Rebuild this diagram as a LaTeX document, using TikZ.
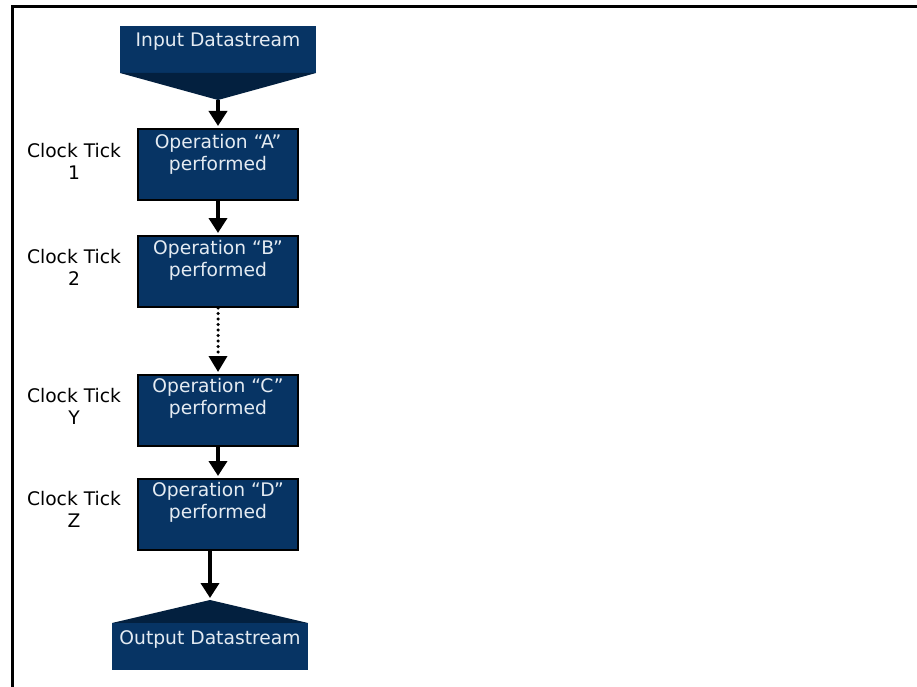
\documentclass[tikz,border=0pt]{standalone}
\usepackage{fontspec}
\setmainfont{DejaVu Sans}
\usetikzlibrary{arrows.meta}
\definecolor{navy}{HTML}{073464}
\definecolor{navydark}{HTML}{03203F}
\definecolor{boxtext}{HTML}{E4EBF2}

\begin{document}
\begin{tikzpicture}[x=1pt,y=-1pt,
  opbox/.style={draw=black, line width=2pt, fill=navy, minimum width=160pt,
    minimum height=71pt, inner sep=0pt, anchor=north west},
  optext/.style={text=boxtext, align=center, inner sep=0pt,
    font=\fontsize{18.7}{22}\selectfont},
  ticklabel/.style={align=center, inner sep=0pt, font=\fontsize{18.7}{22}\selectfont},
  streamtext/.style={text=boxtext, inner sep=0pt, font=\fontsize{18.7}{22}\selectfont},
  arr/.style={line width=4pt, shorten >=2pt, -{Triangle[width=18pt,length=15pt]}},
  dotarr/.style={line width=3.5pt, line cap=round, dash pattern=on 0pt off 5.5pt,
    shorten >=2pt, -{Triangle[width=18pt,length=16pt,line cap=butt]}}
]
\useasboundingbox (0,0) rectangle (917,687);

% outer frame (only its top and left edges fall inside the page)
\draw[line width=3pt] (12,700) -- (12,7) -- (930,7);

% input datastream: banner with a downward point
\fill[navy] (120,26) rectangle (316,73);
\fill[navydark] (120,73) -- (316,73) -- (218,100) -- cycle;
\node[streamtext] (in) at (218,42) {Input Datastream};
\coordinate (intip) at (218,100);

% operation boxes
\node[opbox] (A) at (137,128) {};
\node[opbox] (B) at (137,235) {};
\node[opbox] (C) at (137,374) {};
\node[opbox] (D) at (137,478) {};

\node[optext] (At) at ([yshift=-26pt]A.north) {Operation “A”\\performed};
\node[optext] (Bt) at ([yshift=-25pt]B.north) {Operation “B”\\performed};
\node[optext] (Ct) at ([yshift=-24pt]C.north) {Operation “C”\\performed};
\node[optext] (Dt) at ([yshift=-24pt]D.north) {Operation “D”\\performed};

% clock tick labels
\node[ticklabel] (tA) at (74,161) {Clock Tick\\1};
\node[ticklabel] (tB) at (74,267) {Clock Tick\\2};
\node[ticklabel] (tC) at (74,406) {Clock Tick\\Y};
\node[ticklabel] (tD) at (74,509) {Clock Tick\\Z};

% output datastream: banner with an upward point
\coordinate (outtip) at (210,600);
\fill[navydark] (112,623) -- (210,600) -- (308,623) -- cycle;
\fill[navy] (112,623) rectangle (308,670);
\node[streamtext] (out) at (210,639) {Output Datastream};

% connectors
\draw[arr] (intip) -- (A.north);
\draw[arr] (A.south) -- (B.north);
\draw[dotarr] (B.south) -- (C.north);
\draw[arr] (C.south) -- (D.north);
\draw[arr] (D.south -| outtip) -- (outtip);
\end{tikzpicture}
\end{document}
